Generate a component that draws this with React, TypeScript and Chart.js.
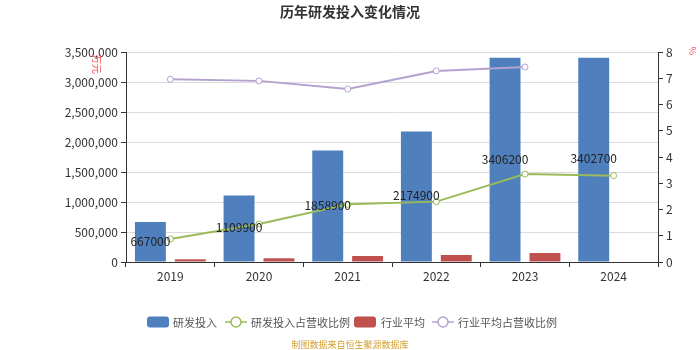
import React, { useEffect, useRef } from "react";
import { Chart, registerables } from "chart.js";

Chart.register(...registerables);

const years = ["2019", "2020", "2021", "2022", "2023", "2024"];
const rdInvest = [667000, 1109900, 1858900, 2174900, 3406200, 3402700];
const rdRatio = [0.88, 1.45, 2.2, 2.3, 3.35, 3.29];
const industryAvg = [45000, 62000, 100000, 117000, 150000, null];
const industryRatio = [6.96, 6.9, 6.59, 7.28, 7.43, null];
const leftTicksMax = 3500000;
const rightTicksMax = 8;

const FONT = '"Noto Sans CJK SC", "Noto Sans", sans-serif';
const BLUE = "#4f7fbd";
const RED = "#c0504d";
const GREEN = "#9bbb59";
const PURPLE = "#b3a2d0";

export default function App() {
  const ref = useRef<HTMLCanvasElement | null>(null);
  useEffect(() => {
    document.body.style.margin = "0";
    const canvas = ref.current!;
    const labelShift = [3, 3, 1, -6, -15, -17];

    const overlay = {
      id: "overlay",
      afterDatasetsDraw(chart: any) {
        const ctx = chart.ctx;
        const barMeta = chart.getDatasetMeta(0);
        const lineMeta = chart.getDatasetMeta(1);
        ctx.save();
        ctx.font = `12px ${FONT}`;
        ctx.fillStyle = "#222";
        ctx.textAlign = "center";
        ctx.textBaseline = "middle";
        rdInvest.forEach((v, i) => {
          const bx = barMeta.data[i].x;
          const py = lineMeta.data[i].y;
          ctx.fillText(String(v), bx, py + labelShift[i]);
        });
        ctx.restore();
      },
      afterDraw(chart: any) {
        const ctx = chart.ctx;
        ctx.save();
        // title
        ctx.font = `bold 14px ${FONT}`;
        ctx.fillStyle = "#333";
        ctx.textAlign = "center";
        ctx.textBaseline = "middle";
        ctx.fillText("历年研发投入变化情况", 350, 12);
        // axis units
        ctx.font = `10px ${FONT}`;
        ctx.fillStyle = "#ff4d4d";
        ctx.save();
        ctx.translate(97, 64);
        ctx.rotate(Math.PI / 2);
        ctx.fillText("万元", 0, 0);
        ctx.restore();
        ctx.save();
        ctx.translate(692, 51);
        ctx.rotate(Math.PI / 2);
        ctx.font = `9px ${FONT}`;
        ctx.fillText("%", 0, 0);
        ctx.restore();
        // legend
        const ly = 322;
        ctx.font = `11px ${FONT}`;
        ctx.textAlign = "left";
        const TXT = "#555";
        const rr = (x: number, color: string) => {
          ctx.fillStyle = color;
          ctx.beginPath();
          (ctx as any).roundRect(x, ly - 5.5, 22, 11, 3);
          ctx.fill();
        };
        const ln = (x: number, color: string) => {
          ctx.strokeStyle = color;
          ctx.lineWidth = 1.5;
          ctx.beginPath();
          ctx.moveTo(x, ly);
          ctx.lineTo(x + 22, ly);
          ctx.stroke();
          ctx.fillStyle = "#fff";
          ctx.beginPath();
          ctx.arc(x + 11, ly, 5, 0, Math.PI * 2);
          ctx.fill();
          ctx.stroke();
        };
        const labels = chart.data.datasets.map((d: any) => d.label);
        rr(147, BLUE);
        ctx.fillStyle = TXT;
        ctx.fillText(labels[0], 173, ly + 1);
        ln(225, GREEN);
        ctx.fillStyle = TXT;
        ctx.fillText(labels[1], 251, ly + 1);
        rr(354, RED);
        ctx.fillStyle = TXT;
        ctx.fillText(labels[2], 381, ly + 1);
        ln(432, PURPLE);
        ctx.fillStyle = TXT;
        ctx.fillText(labels[3], 458, ly + 1);
        // source
        ctx.font = `9px ${FONT}`;
        ctx.fillStyle = "#d4a030";
        ctx.textAlign = "center";
        ctx.fillText("制图数据来自恒生聚源数据库", 350, 345);
        ctx.restore();
      },
    };

    const chart = new Chart(canvas, {
      data: {
        labels: years,
        datasets: [
          {
            type: "bar",
            label: "研发投入",
            data: rdInvest,
            backgroundColor: BLUE,
            yAxisID: "y",
            order: 2,
            categoryPercentage: 0.9,
            barPercentage: 0.775,
          },
          {
            type: "line",
            label: "研发投入占营收比例",
            data: rdRatio,
            borderColor: GREEN,
            borderWidth: 2,
            pointRadius: 3,
            pointBackgroundColor: "#fff",
            pointBorderColor: GREEN,
            pointBorderWidth: 1,
            yAxisID: "y1",
            order: 0,
          },
          {
            type: "bar",
            label: "行业平均",
            data: industryAvg,
            backgroundColor: RED,
            yAxisID: "y",
            order: 2,
            categoryPercentage: 0.9,
            barPercentage: 0.775,
          },
          {
            type: "line",
            label: "行业平均占营收比例",
            data: industryRatio,
            borderColor: PURPLE,
            borderWidth: 2,
            pointRadius: 3,
            pointBackgroundColor: "#fff",
            pointBorderColor: PURPLE,
            pointBorderWidth: 1,
            yAxisID: "y1",
            order: 0,
          },
        ] as any,
      },
      options: {
        animation: false,
        responsive: false,
        layout: { padding: { top: 52, left: 0, right: 0, bottom: 0 } },
        plugins: {
          legend: { display: false },
          title: { display: false },
          tooltip: { enabled: false },
        },
        scales: {
          x: {
            offset: true,
            afterFit: (s: any) => {
              s.height = 88;
            },
            grid: {
              offset: true,
              drawOnChartArea: false,
              drawTicks: true,
              tickLength: 5,
              color: "#333",
            },
            border: { color: "#333", width: 1 },
            ticks: { color: "#333", font: { family: FONT, size: 12 }, padding: 2 },
          },
          y: {
            position: "left",
            min: 0,
            max: leftTicksMax,
            afterFit: (s: any) => {
              s.width = 126;
            },
            ticks: {
              stepSize: 500000,
              color: "#333",
              font: { family: FONT, size: 12 },
              padding: 3,
              callback: (v: any) => Number(v).toLocaleString("en-US"),
            },
            grid: { color: "#dcdcdc", tickLength: 5, tickColor: "#333" },
            border: { color: "#333", width: 1 },
          },
          y1: {
            position: "right",
            min: 0,
            max: rightTicksMax,
            afterFit: (s: any) => {
              s.width = 42;
            },
            ticks: {
              stepSize: 1,
              color: "#333",
              font: { family: FONT, size: 12 },
              padding: 3,
            },
            grid: { drawOnChartArea: false, tickLength: 5, color: "#333" },
            border: { color: "#333", width: 1 },
          },
        },
      } as any,
      plugins: [overlay],
    });
    return () => chart.destroy();
  }, []);
  return (
    <div style={{ width: 700, height: 350 }}>
      <canvas ref={ref} width={700} height={350} style={{ display: "block" }} />
    </div>
  );
}
